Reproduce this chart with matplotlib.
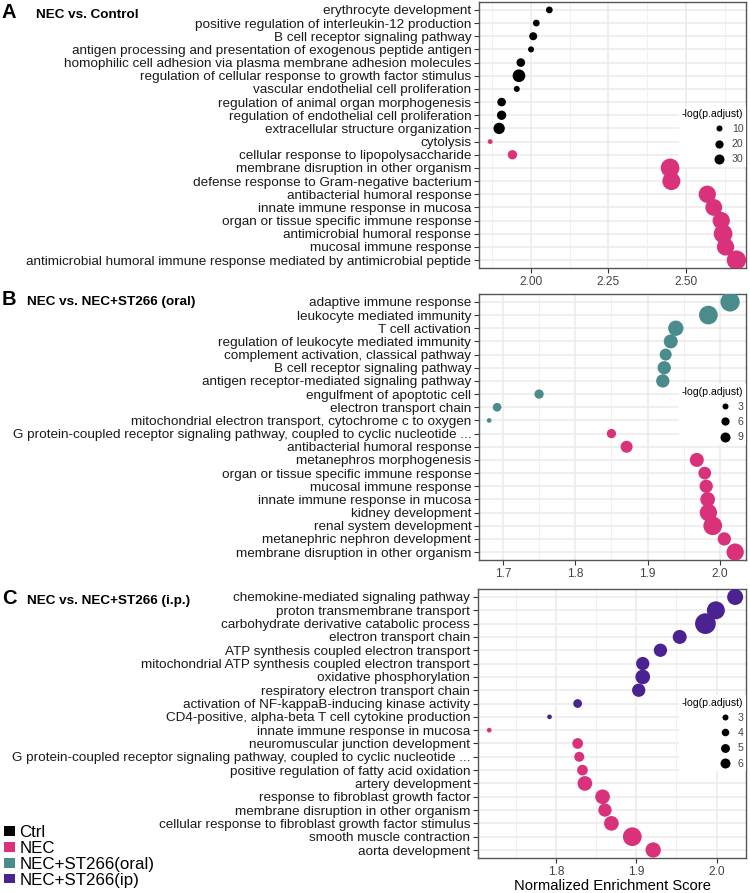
import numpy as np
import matplotlib
matplotlib.use('Agg')
import matplotlib.pyplot as plt
from matplotlib.lines import Line2D
from matplotlib.patches import Patch

plt.rcParams['font.family'] = ['Liberation Sans', 'DejaVu Sans']

# ---- panel A: NEC vs. Control
terms_a = ['erythrocyte development',
           'positive regulation of interleukin-12 production',
           'B cell receptor signaling pathway',
           'antigen processing and presentation of exogenous peptide antigen',
           'homophilic cell adhesion via plasma membrane adhesion molecules',
           'regulation of cellular response to growth factor stimulus',
           'vascular endothelial cell proliferation',
           'regulation of animal organ morphogenesis',
           'regulation of endothelial cell proliferation',
           'extracellular structure organization',
           'cytolysis',
           'cellular response to lipopolysaccharide',
           'membrane disruption in other organism',
           'defense response to Gram-negative bacterium',
           'antibacterial humoral response',
           'innate immune response in mucosa',
           'organ or tissue specific immune response',
           'antimicrobial humoral response',
           'mucosal immune response',
           'antimicrobial humoral immune response mediated by antimicrobial peptide']
nes_a = [2.059, 2.017, 2.007, 2.000, 1.967, 1.961, 1.954, 1.905, 1.905, 1.897,
         1.868, 1.940, 2.449, 2.453, 2.569, 2.590, 2.614, 2.620, 2.628, 2.663]
logp_a = [13, 13, 19, 10, 22, 49, 10, 22, 26, 39,
          6, 26, 108, 100, 92, 87, 92, 108, 92, 115]
group_a = ['Ctrl'] * 10 + ['NEC'] * 10

# ---- panel B: NEC vs. NEC+ST266 (oral)
terms_b = ['adaptive immune response',
           'leukocyte mediated immunity',
           'T cell activation',
           'regulation of leukocyte mediated immunity',
           'complement activation, classical pathway',
           'B cell receptor signaling pathway',
           'antigen receptor-mediated signaling pathway',
           'engulfment of apoptotic cell',
           'electron transport chain',
           'mitochondrial electron transport, cytochrome c to oxygen',
           'G protein-coupled receptor signaling pathway, coupled to cyclic nucleotide ...',
           'antibacterial humoral response',
           'metanephros morphogenesis',
           'organ or tissue specific immune response',
           'mucosal immune response',
           'innate immune response in mucosa',
           'kidney development',
           'renal system development',
           'metanephric nephron development',
           'membrane disruption in other organism']
nes_b = [2.014, 1.984, 1.939, 1.932, 1.925, 1.923, 1.921, 1.750, 1.692, 1.681,
         1.850, 1.871, 1.968, 1.979, 1.981, 1.983, 1.984, 1.990, 2.006, 2.021]
logp_b = [34.5, 32.4, 21.6, 18.0, 13.1, 16.2, 16.2, 7.7, 6.7, 1.7,
          7.7, 13.1, 18.0, 14.7, 16.2, 19.9, 27.7, 32.4, 16.2, 27.7]
group_b = ['NEC+ST266(oral)'] * 10 + ['NEC'] * 10

# ---- panel C: NEC vs. NEC+ST266 (i.p.)
terms_c = ['chemokine-mediated signaling pathway',
           'proton transmembrane transport',
           'carbohydrate derivative catabolic process',
           'electron transport chain',
           'ATP synthesis coupled electron transport',
           'mitochondrial ATP synthesis coupled electron transport',
           'oxidative phosphorylation',
           'respiratory electron transport chain',
           'activation of NF-kappaB-inducing kinase activity',
           'CD4-positive, alpha-beta T cell cytokine production',
           'innate immune response in mucosa',
           'neuromuscular junction development',
           'G protein-coupled receptor signaling pathway, coupled to cyclic nucleotide ...',
           'positive regulation of fatty acid oxidation',
           'artery development',
           'response to fibroblast growth factor',
           'membrane disruption in other organism',
           'cellular response to fibroblast growth factor stimulus',
           'smooth muscle contraction',
           'aorta development']
nes_c = [2.023, 1.999, 1.986, 1.954, 1.930, 1.908, 1.908, 1.903, 1.827, 1.792,
         1.717, 1.827, 1.829, 1.833, 1.836, 1.858, 1.861, 1.869, 1.895, 1.921]
logp_c = [13.3, 16.5, 21.4, 10.5, 9.6, 9.6, 11.4, 9.6, 4.9, 2.35,
          2.35, 6.7, 6.0, 6.7, 11.4, 11.4, 9.6, 11.4, 17.7, 12.3]
group_c = ['NEC+ST266(ip)'] * 10 + ['NEC'] * 10

groups = ['Ctrl', 'NEC', 'NEC+ST266(oral)', 'NEC+ST266(ip)']
group_colors = {'Ctrl': '#000000', 'NEC': '#D9317A',
                'NEC+ST266(oral)': '#4A8B8B', 'NEC+ST266(ip)': '#4B2391'}

W, H = 750, 893
fig = plt.figure(figsize=(W / 100, H / 100), dpi=100)


def dot_area(v, calib):
    # dot area in px^2 is linear in -log(p.adjust); convert to pt^2
    a, b = calib
    d = np.sqrt(a + b * np.asarray(v, dtype=float))
    return (d * 0.72) ** 2


def panel(box, terms, nes, logp, grp, xlim, major, minor, fmt, breaks, calib, leg_top):
    l, t, r, b = box
    ax = fig.add_axes([l / W, 1 - b / H, (r - l) / W, (b - t) / H])
    y = np.arange(len(terms))
    ax.scatter(nes, y, s=dot_area(logp, calib),
               c=[group_colors[g] for g in grp], edgecolors='none', zorder=3)
    ax.set_ylim(len(terms) - 0.4, -0.6)
    ax.set_xlim(xlim)
    ax.set_yticks(y)
    ax.set_yticklabels(terms, fontsize=9.7, color='#1a1a1a')
    ax.set_xticks(major)
    ax.set_xticklabels([fmt.format(m) for m in major], fontsize=8.6, color='#444444')
    ax.set_xticks(minor, minor=True)
    ax.grid(which='major', color='#EBEBEB', lw=1.1)
    ax.grid(which='minor', axis='x', color='#EFEFEF', lw=0.6)
    ax.set_axisbelow(True)
    ax.tick_params(which='major', length=3.5, width=0.8, color='#333333', pad=2)
    ax.tick_params(which='minor', length=0)
    for s in ax.spines.values():
        s.set_color('#555555')
        s.set_linewidth(1.0)

    handles = [Line2D([], [], ls='none', marker='o', color='black', markeredgewidth=0,
                      markersize=np.sqrt(dot_area(v, calib))) for v in breaks]
    leg = ax.legend(handles, [str(v) for v in breaks], title='-log(p.adjust)',
                    loc='upper right', bbox_to_anchor=(1.0, 1 - (leg_top - t) / (b - t)),
                    borderaxespad=0, borderpad=0.25, frameon=True, fancybox=False,
                    facecolor='white', edgecolor='none', framealpha=1,
                    fontsize=7.6, title_fontsize=7.6, handlelength=1.4,
                    handletextpad=0.5, labelspacing=0.5, alignment='right')
    for txt in leg.get_texts():
        txt.set_color('#444444')
    return ax


ax_a = panel((479, 2, 746, 268), terms_a, nes_a, logp_a, group_a,
             (1.832, 2.694), [2.0, 2.25, 2.5], [1.875, 2.125, 2.375, 2.625],
             '{:.2f}', [10, 20, 30], (4, 3.2), 106)
ax_b = panel((479, 294, 746, 560), terms_b, nes_b, logp_b, group_b,
             (1.667, 2.036), [1.7, 1.8, 1.9, 2.0], [1.75, 1.85, 1.95],
             '{:.1f}', [3, 6, 9], (4, 10.67), 384)
ax_c = panel((478, 589, 746, 858), terms_c, nes_c, logp_c, group_c,
             (1.703, 2.0365), [1.8, 1.9, 2.0], [1.75, 1.85, 1.95],
             '{:.1f}', [3, 4, 5, 6], (-28, 21.33), 695)
ax_c.set_xlabel('Normalized Enrichment Score', fontsize=10.6, labelpad=1)

# panel titles
for letter, sub, base, subx in [('A', 'NEC vs. Control', 18, 36),
                                ('B', 'NEC vs. NEC+ST266 (oral)', 305, 27),
                                ('C', 'NEC vs. NEC+ST266 (i.p.)', 604, 27)]:
    fig.text(2 / W, 1 - base / H, letter, fontsize=14.5, weight='bold', va='baseline')
    fig.text(subx / W, 1 - base / H, sub, fontsize=9.7, weight='bold', va='baseline')

# colour legend
patches = [Patch(facecolor=group_colors[g], edgecolor='none', label=g) for g in groups]
fig.legend(handles=patches, loc='upper left', bbox_to_anchor=(4 / W, 1 - 825 / H),
           frameon=False, fontsize=12.2, handlelength=0.65, handleheight=0.5,
           handletextpad=0.25, labelspacing=0.05, borderpad=0, borderaxespad=0)

fig.savefig('out.png', dpi=100)
